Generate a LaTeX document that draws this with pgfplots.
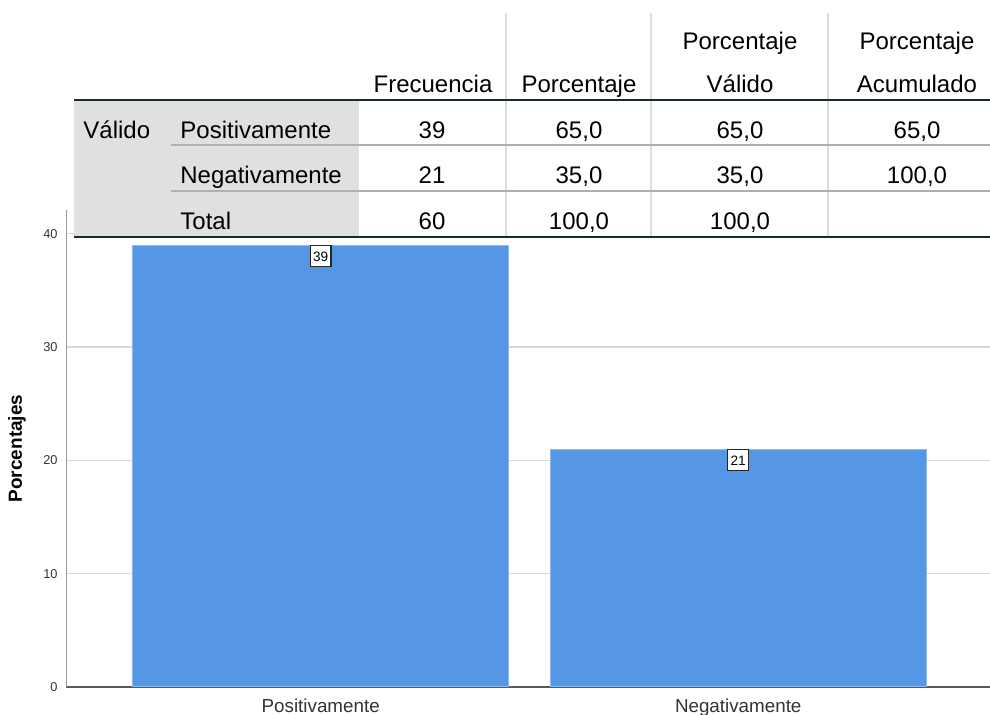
\documentclass[border=0pt]{standalone}
\usepackage{pgfplots}
\pgfplotsset{compat=1.18}
\usepackage{fontspec}
\setmainfont{Liberation Sans}
\definecolor{barblue}{HTML}{5596E5}
\definecolor{baredge}{HTML}{8DB8EE}
\definecolor{tgray}{HTML}{E0E0E0}
\definecolor{hgray}{HTML}{B0B0B0}
\definecolor{vgray}{HTML}{DCDCDC}
\definecolor{dark}{HTML}{1A2A35}
\definecolor{gridc}{HTML}{D9D9D9}
\newcommand{\tfont}{\fontsize{12}{14}\selectfont}
\begin{document}
\begin{tikzpicture}
\path[use as bounding box] (0,0) rectangle (495pt,357.5pt);
\begin{axis}[
  at={(33pt,14pt)}, anchor=south west,
  scale only axis, width=462pt, height=238.5pt,
  xmin=-0.61, xmax=1.603, ymin=0, ymax=42.1,
  axis x line=bottom, axis y line=left,
  axis line style={-},
  x axis line style={-, draw=black!65, line width=0.75pt},
  y axis line style={-, draw=black!40, line width=0.5pt},
  xtick={0,1}, xticklabels={Positivamente,Negativamente},
  ytick={0,10,20,30,40},
  major tick length=0pt,
  ymajorgrids, grid style={draw=gridc, line width=0.6pt},
  /pgf/number format/assume math mode=true,
  xticklabel style={font=\fontsize{9.4}{11}\selectfont, text=black!80, anchor=base, yshift=-13pt},
  yticklabel style={font=\fontsize{6.4}{7}\selectfont, text=black!80, anchor=east, inner sep=0pt, xshift=-4pt},
  ylabel={Porcentajes},
  ylabel style={font=\bfseries\fontsize{9.5}{11}\selectfont, at={(axis description cs:-0.053,0.5)}, anchor=center},
  clip=false,
]
\addplot[ybar, bar width=0.9, fill=barblue, draw=baredge, line width=0.5pt,
  nodes near coords,
  nodes near coords style={anchor=north, draw=black!85, fill=white, text=black,
    font=\fontsize{6.8}{7}\selectfont, inner xsep=1.4pt, inner ysep=2.8pt,
    text height=4.9pt, text depth=0pt, line width=0.6pt}]
  coordinates {(0,39) (1,21)};
\end{axis}
\begin{scope}[x=0.5pt, y=-0.5pt, yshift=357.5pt]
  \fill[white] (74,0) rectangle (990,238);
  \fill[tgray] (74,100) rectangle (359,237);
  \draw[vgray, line width=1.3pt] (506,13) -- (506,237);
  \draw[vgray, line width=1.3pt] (651,13) -- (651,237);
  \draw[vgray, line width=1.3pt] (828,13) -- (828,237);
  \draw[hgray, line width=1.2pt] (171,145) -- (990,145);
  \draw[hgray, line width=1.2pt] (171,191) -- (990,191);
  \draw[dark, line width=1.15pt] (74,100) -- (990,100);
  \draw[dark, line width=1.15pt] (74,237) -- (990,237);
  % header
  \node[anchor=base, font=\tfont, inner sep=0pt] at (433,93) {Frecuencia};
  \node[anchor=base, font=\tfont, inner sep=0pt] at (579,93) {Porcentaje};
  \node[anchor=base, font=\tfont, inner sep=0pt] at (740,50) {Porcentaje};
  \node[anchor=base, font=\tfont, inner sep=0pt] at (740,93) {Válido};
  \node[anchor=base, font=\tfont, inner sep=0pt] at (917,50) {Porcentaje};
  \node[anchor=base, font=\tfont, inner sep=0pt] at (917,93) {Acumulado};
  % body
  \node[anchor=base west, font=\tfont, inner sep=0pt] at (83,139) {Válido};
  \node[anchor=base west, font=\tfont, inner sep=0pt] at (180,139) {Positivamente};
  \node[anchor=base west, font=\tfont, inner sep=0pt] at (180,184) {Negativamente};
  \node[anchor=base west, font=\tfont, inner sep=0pt] at (180,230) {Total};
  \node[anchor=base, font=\tfont, inner sep=0pt] at (432,139) {39};
  \node[anchor=base, font=\tfont, inner sep=0pt] at (432,184) {21};
  \node[anchor=base, font=\tfont, inner sep=0pt] at (432,230) {60};
  \node[anchor=base, font=\tfont, inner sep=0pt] at (579,139) {65,0};
  \node[anchor=base, font=\tfont, inner sep=0pt] at (579,184) {35,0};
  \node[anchor=base, font=\tfont, inner sep=0pt] at (579,230) {100,0};
  \node[anchor=base, font=\tfont, inner sep=0pt] at (740,139) {65,0};
  \node[anchor=base, font=\tfont, inner sep=0pt] at (740,184) {35,0};
  \node[anchor=base, font=\tfont, inner sep=0pt] at (740,230) {100,0};
  \node[anchor=base, font=\tfont, inner sep=0pt] at (917,139) {65,0};
  \node[anchor=base, font=\tfont, inner sep=0pt] at (917,184) {100,0};
\end{scope}
\end{tikzpicture}
\end{document}
